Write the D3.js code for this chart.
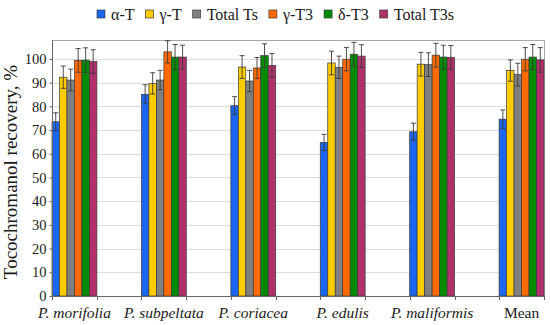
<!DOCTYPE html>
<html lang="en">
<head>
    <meta charset="utf-8">
    <script src="https://d3js.org/d3.v7.min.js"></script>
    <style>
        body { margin: 0; background: #fff; }
    </style>
</head>
<body>
</body>
<script>

    // categories and series
    const species = ["P. morifolia", "P. subpeltata", "P. coriacea", "P. edulis", "P. maliformis", "Mean"];
    const seriesNames = ["α-T", "γ-T", "Total Ts", "γ-T3", "δ-T3", "Total T3s"];
    const seriesColors = ["#1a66f0", "#ffcc00", "#808080", "#ff6a00", "#008a00", "#b0306a"];

    // recovery values, one array per series (same order as species)
    const alphaT   = [73.5, 85.1, 80.3, 64.8, 69.3, 74.6];
    const gammaT   = [92.3, 89.7, 96.6, 98.3, 97.8, 95.1];
    const totalTs  = [91.1, 91.1, 90.7, 96.5, 97.6, 93.4];
    const gammaT3  = [99.4, 103.0, 96.2, 99.9, 101.6, 99.9];
    const deltaT3  = [99.5, 100.8, 101.4, 102.0, 100.8, 100.8];
    const totalT3s = [98.9, 100.8, 97.3, 101.2, 100.7, 99.6];

    // error bars (+/-)
    const alphaTErr   = [3.8, 4.0, 3.8, 3.4, 3.6, 3.9];
    const gammaTErr   = [4.7, 4.5, 4.8, 5.0, 5.0, 4.5];
    const totalTsErr  = [4.6, 4.1, 4.5, 4.7, 5.0, 4.8];
    const gammaT3Err  = [5.0, 4.7, 4.4, 4.9, 5.0, 4.9];
    const deltaT3Err  = [5.2, 5.3, 5.0, 5.0, 5.0, 5.3];
    const totalT3sErr = [5.0, 5.0, 5.0, 4.8, 5.0, 5.2];

    const yTicks = [0, 10, 20, 30, 40, 50, 60, 70, 80, 90, 100];

    const values = [alphaT, gammaT, totalTs, gammaT3, deltaT3, totalT3s];
    const errors = [alphaTErr, gammaTErr, totalTsErr, gammaT3Err, deltaT3Err, totalT3sErr];

    const width = 550;
    const height = 325;
    const mLeft = 52, mRight = 544, mTop = 40, mBottom = 296;
    const serif = "'Liberation Serif', serif";

    const svg = d3.select("body")
                    .append("svg")
                    .attr("width", width)
                    .attr("height", height)
                    .style("font-family", serif);

    // x: each species gets a slot, bars fill the first half of it
    const x0 = d3.scaleBand()
                    .domain(species)
                    .range([mLeft, mRight])
                    .paddingInner(0.498)
                    .paddingOuter(0);

    const x1 = d3.scaleBand()
                    .domain(seriesNames)
                    .range([0, x0.bandwidth()]);

    const y = d3.scaleLinear()
                    .domain([0, 108])
                    .range([mBottom, mTop]);

    // gridlines
    svg.append("g")
        .selectAll("line")
        .data(yTicks.slice(1))
        .enter()
        .append("line")
        .attr("x1", mLeft)
        .attr("x2", mRight)
        .attr("y1", d => Math.round(y(d)) + 0.5)
        .attr("y2", d => Math.round(y(d)) + 0.5)
        .attr("stroke", "#dcdcdc")
        .attr("stroke-width", 1);

    // plot border top and right
    svg.append("path")
        .attr("d", `M${mLeft},${mTop + 0.5}H${mRight + 0.5}V${mBottom}`)
        .attr("fill", "none")
        .attr("stroke", "#a6a6a6");

    // bars
    const rows = [];
    species.forEach(function(s, i) {
        seriesNames.forEach(function(n, j) {
            rows.push({ species: s, series: n, value: values[j][i], err: errors[j][i], color: seriesColors[j] });
        });
    });

    const g = svg.append("g");

    g.selectAll("rect")
        .data(rows)
        .enter()
        .append("rect")
        .attr("x", d => x0(d.species) + x1(d.series))
        .attr("y", d => y(d.value))
        .attr("width", x1.bandwidth())
        .attr("height", d => y(0) - y(d.value))
        .attr("fill", d => d.color)
        .attr("stroke", "#3a3a3a")
        .attr("stroke-width", 0.7);

    // error bars
    const eb = g.selectAll("g.err")
                .data(rows)
                .enter()
                .append("g")
                .attr("class", "err")
                .attr("stroke", "#3a3a3a")
                .attr("stroke-width", 0.9);

    const cx = d => x0(d.species) + x1(d.series) + x1.bandwidth() / 2;

    eb.append("line")
        .attr("x1", cx).attr("x2", cx)
        .attr("y1", d => y(d.value - d.err))
        .attr("y2", d => y(d.value + d.err));
    eb.append("line")
        .attr("x1", d => cx(d) - 2.5).attr("x2", d => cx(d) + 2.5)
        .attr("y1", d => y(d.value + d.err))
        .attr("y2", d => y(d.value + d.err));
    eb.append("line")
        .attr("x1", d => cx(d) - 2.5).attr("x2", d => cx(d) + 2.5)
        .attr("y1", d => y(d.value - d.err))
        .attr("y2", d => y(d.value - d.err));

    // y axis
    const yAxis = svg.append("g")
                    .attr("transform", `translate(${mLeft + 0.5},0)`)
                    .call(d3.axisLeft(y).tickValues(yTicks).tickSize(3).tickPadding(3));
    yAxis.attr("font-family", null).attr("font-size", null);
    yAxis.select(".domain").attr("stroke", "#666").attr("d", `M0,${mBottom}V${mTop}`);
    yAxis.selectAll(".tick line").attr("stroke", "#666");
    yAxis.selectAll("text")
        .style("font-family", serif)
        .style("font-size", "14.5px")
        .attr("fill", "#1a1a1a");

    // x axis: ticks at each group edge
    const edges = [];
    species.forEach(s => { edges.push(x0(s)); edges.push(x0(s) + x0.bandwidth()); });
    const xa = svg.append("g");
    xa.append("line")
        .attr("x1", mLeft).attr("x2", mRight + 0.5)
        .attr("y1", mBottom + 0.5).attr("y2", mBottom + 0.5)
        .attr("stroke", "#666");
    xa.selectAll("line.tk")
        .data(edges)
        .enter()
        .append("line")
        .attr("class", "tk")
        .attr("x1", d => Math.round(d) + 0.5).attr("x2", d => Math.round(d) + 0.5)
        .attr("y1", mBottom).attr("y2", mBottom + 4)
        .attr("stroke", "#666");
    xa.selectAll("text")
        .data(species)
        .enter()
        .append("text")
        .attr("x", d => x0(d) + x0.bandwidth() / 2)
        .attr("y", 318)
        .attr("text-anchor", "middle")
        .attr("fill", "#1a1a1a")
        .style("font-family", serif)
        .style("font-size", "15.5px")
        .style("font-style", d => d === "Mean" ? "normal" : "italic")
        .text(d => d);

    // y title
    svg.append("text")
        .attr("transform", `translate(17,172) rotate(-90)`)
        .attr("text-anchor", "middle")
        .attr("fill", "#1a1a1a")
        .style("font-family", serif)
        .style("font-size", "19px")
        .text("Tocochromanol recovery, %");

    // legend
    let lx = 97;
    seriesNames.forEach(function(n, j) {
        svg.append("rect")
            .attr("x", lx).attr("y", 10)
            .attr("width", 8).attr("height", 8)
            .attr("fill", seriesColors[j])
            .attr("stroke", "#3a3a3a")
            .attr("stroke-width", 0.7);
        const t = svg.append("text")
            .attr("x", lx + 14)
            .attr("y", 19.5)
            .attr("fill", "#1a1a1a")
            .style("font-family", serif)
            .style("font-size", "16px")
            .text(n);
        lx += 14 + t.node().getComputedTextLength() + 11;
    });

</script>
</html>
